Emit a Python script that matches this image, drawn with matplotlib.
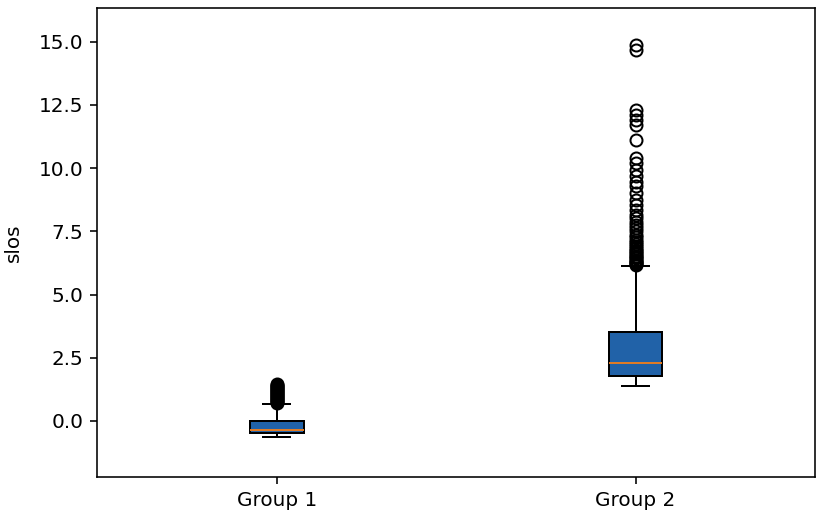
import matplotlib
matplotlib.use("Agg")
import matplotlib.pyplot as plt

# ----------------------------
# Box statistics
# ----------------------------
labels = ["Group 1", "Group 2"]
medians = [-0.36, 2.30]
q1s = [-0.48, 1.78]
q3s = [-0.02, 3.50]
whis_lo = [-0.64, 1.40]
whis_hi = [0.68, 6.12]

fliers_1 = [0.72, 0.76, 0.80, 0.84, 0.88, 0.92, 0.96, 1.00, 1.04, 1.08,
            1.12, 1.16, 1.20, 1.24, 1.28, 1.32, 1.36, 1.40, 1.44, 1.46]
fliers_2 = [6.16, 6.20, 6.24, 6.28, 6.33, 6.38, 6.43, 6.48, 6.54, 6.60,
            6.66, 6.72, 6.78, 6.85, 6.92, 6.98, 7.06, 7.16, 7.26, 7.36,
            7.50, 7.64, 7.76, 7.87, 8.02, 8.15, 8.35, 8.55, 8.75, 9.02,
            9.30, 9.46, 9.70, 9.93, 10.20, 10.40, 11.12, 11.70, 11.91,
            12.11, 12.31, 14.68, 14.88]
fliers = [fliers_1, fliers_2]

stats = []
for i in range(len(labels)):
    stats.append({
        "label": labels[i],
        "med": medians[i],
        "q1": q1s[i],
        "q3": q3s[i],
        "whislo": whis_lo[i],
        "whishi": whis_hi[i],
        "fliers": fliers[i],
    })

# ----------------------------
# VISUALIZATION
# ----------------------------
fig = plt.figure(figsize=(824 / 144, 518 / 144), dpi=144)
ax = fig.add_axes([0.118, 0.079, 0.871, 0.906])

bp = ax.bxp(stats, patch_artist=True, widths=0.15)
for box in bp["boxes"]:
    box.set_facecolor("#2162a8")
    box.set_edgecolor("black")
for med in bp["medians"]:
    med.set_color("#e07b25")

ax.set_xlim(0.5, 2.5)
ax.set_ylim(-2.22, 16.34)
ax.set_ylabel("slos", labelpad=8)

fig.savefig("out.png", dpi=144)
